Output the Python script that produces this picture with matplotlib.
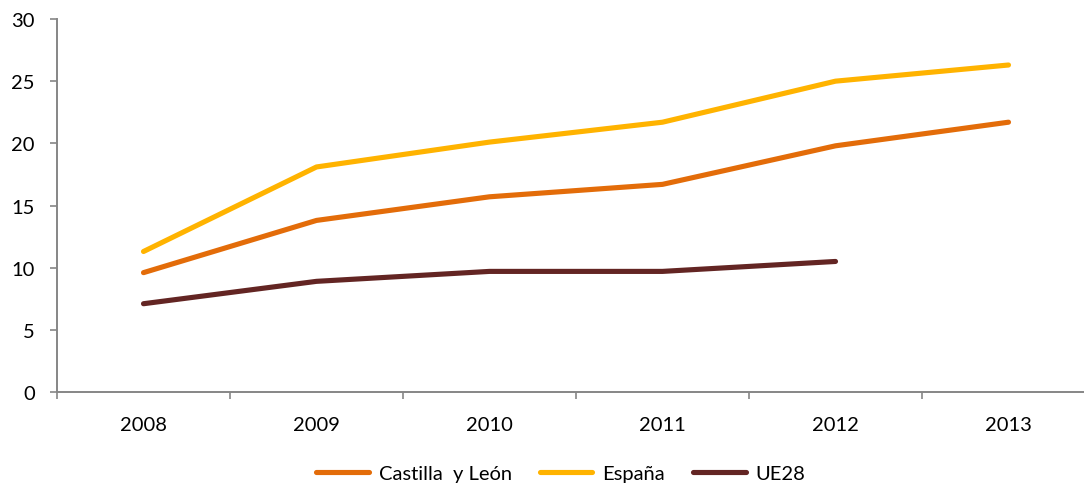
import matplotlib
matplotlib.use("Agg")
import matplotlib.pyplot as plt
from matplotlib.ticker import FixedLocator, NullFormatter, FixedFormatter

plt.rcParams['font.family'] = ['Lato', 'DejaVu Sans']

years = ["2008", "2009", "2010", "2011", "2012", "2013"]
castilla_leon = [9.6, 13.8, 15.7, 16.7, 19.8, 21.7]
espana = [11.3, 18.1, 20.1, 21.7, 25.0, 26.3]
ue28 = [7.1, 8.9, 9.7, 9.7, 10.5]
y_ticks = [0, 5, 10, 15, 20, 25, 30]

W, H = 1084, 485
fig = plt.figure(figsize=(W / 100, H / 100), dpi=100)
ax = fig.add_axes([57 / W, (H - 393) / H, 1038 / W, 373 / H])

lw = 3.7
x = list(range(len(years)))
ax.plot(x, castilla_leon, color="#E36C09", lw=lw, solid_capstyle="round", label="Castilla  y León")
ax.plot(x, espana, color="#FFB300", lw=lw, solid_capstyle="round", label="España")
ax.plot(x[:len(ue28)], ue28, color="#632523", lw=lw, solid_capstyle="round", label="UE28")

ax.set_xlim(-0.5, len(years) - 0.5)
ax.set_ylim(0, 30)

for s in ("top", "right"):
    ax.spines[s].set_visible(False)
for s in ("left", "bottom"):
    ax.spines[s].set_color("#868686")
    ax.spines[s].set_linewidth(1.4)

fs = 14.5
ax.set_yticks(y_ticks)
ax.set_yticklabels([str(v) for v in y_ticks])
ax.tick_params(axis="y", direction="out", length=5, width=1.2, color="#868686",
               pad=11, labelsize=fs, labelcolor="black")

# category boundaries carry the tick marks, centers carry the labels
ax.xaxis.set_major_locator(FixedLocator([i - 0.5 for i in range(len(years) + 1)]))
ax.xaxis.set_major_formatter(NullFormatter())
ax.xaxis.set_minor_locator(FixedLocator(x))
ax.xaxis.set_minor_formatter(FixedFormatter(years))
ax.tick_params(axis="x", which="major", direction="out", length=5, width=1.2, color="#868686")
ax.tick_params(axis="x", which="minor", length=0, pad=17, labelsize=fs, labelcolor="black")

fig.legend(loc="center", bbox_to_anchor=(561 / W, 1 - 474 / H), ncol=3, frameon=False,
           fontsize=fs, handlelength=2.6, handletextpad=0.5, columnspacing=1.4)

fig.savefig("out.png", dpi=100)
